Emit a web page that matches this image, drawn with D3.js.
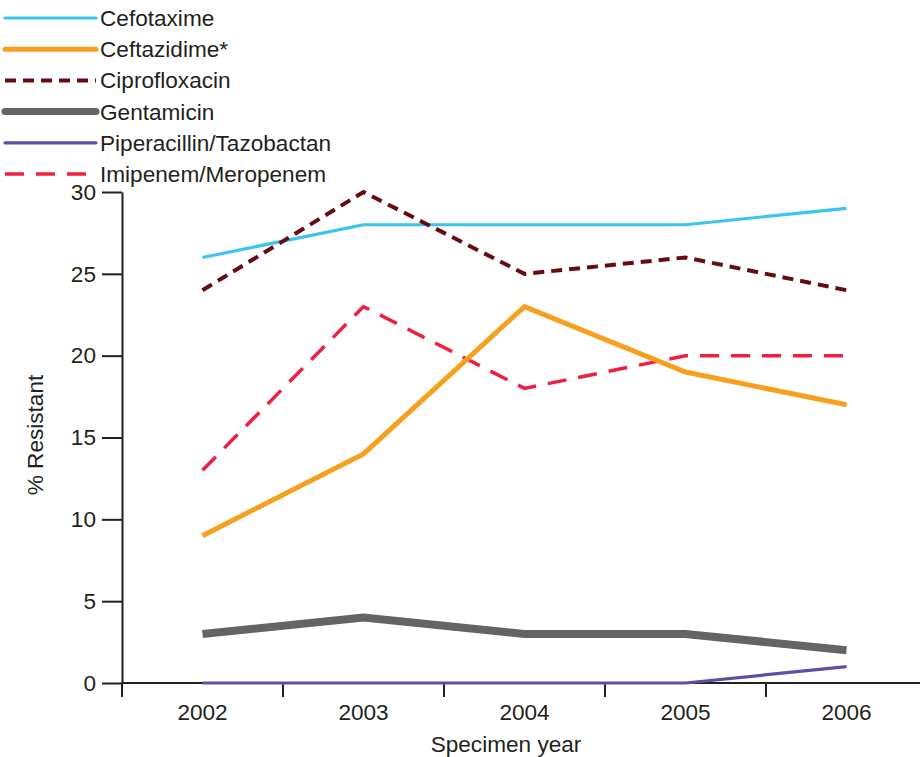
<!DOCTYPE html>
<html><head><meta charset="utf-8">
<script src="https://cdn.jsdelivr.net/npm/d3@7"></script>
<style>body{margin:0;background:#fff}svg{display:block;font-family:"Liberation Sans",Arial,sans-serif}</style>
</head><body>
<svg id="c" width="920" height="757"></svg>
<script>
const years = ["2002","2003","2004","2005","2006"];
const cefotaxime = [26,28,28,28,29];
const ceftazidime = [9,14,23,19,17];
const ciprofloxacin = [24,30,25,26,24];
const gentamicin = [3,4,3,3,2];
const piperacillin = [0,0,0,0,1];
const imipenem = [13,23,18,20,20];
const yTicks = [0,5,10,15,20,25,30];

const series = [
  {name:"Cefotaxime", values:cefotaxime, color:"#3dc3ef", width:3.2, dash:null},
  {name:"Ceftazidime*", values:ceftazidime, color:"#f7a020", width:5, dash:null},
  {name:"Ciprofloxacin", values:ciprofloxacin, color:"#650c10", width:4, dash:"11,7"},
  {name:"Gentamicin", values:gentamicin, color:"#646464", width:8, dash:null},
  {name:"Piperacillin/Tazobactan", values:piperacillin, color:"#5b4fa6", width:3.2, dash:null},
  {name:"Imipenem/Meropenem", values:imipenem, color:"#ee1f40", width:3.5, dash:"19,12"}
];
const drawOrder = ["Gentamicin","Piperacillin/Tazobactan","Imipenem/Meropenem","Ceftazidime*","Cefotaxime","Ciprofloxacin"];

const svg = d3.select("#c");
const x = d3.scaleBand().domain(years).range([122, 927]);
const y = d3.scaleLinear().domain([0,30]).range([683, 192]);
const textColor = "#231f20";
const fs = 22.6;

const yAxis = svg.append("g").attr("transform","translate(122,0)")
  .call(d3.axisLeft(y).tickValues(yTicks).tickSize(20).tickPadding(6).tickSizeOuter(0));
yAxis.select(".domain").attr("stroke",textColor).attr("stroke-width",2);
yAxis.selectAll(".tick line").attr("stroke",textColor).attr("stroke-width",2);
yAxis.selectAll("text").attr("font-size",fs).attr("fill",textColor).attr("font-family","Liberation Sans, Arial, sans-serif");

const xAxis = svg.append("g").attr("transform","translate(0,683)")
  .call(d3.axisBottom(x).tickSize(0).tickPadding(21).tickSizeOuter(0));
xAxis.select(".domain").remove();
xAxis.selectAll("text").attr("font-size",fs).attr("fill",textColor).attr("font-family","Liberation Sans, Arial, sans-serif");
svg.append("line").attr("x1",122).attr("x2",920).attr("y1",683).attr("y2",683)
  .attr("stroke",textColor).attr("stroke-width",2);
const bounds = years.map(d=>x(d)).concat([x(years[years.length-1])+x.bandwidth()]);
svg.append("g").selectAll("line").data(bounds).join("line")
  .attr("x1",d=>d).attr("x2",d=>d).attr("y1",683).attr("y2",697)
  .attr("stroke",textColor).attr("stroke-width",2);

svg.append("text").attr("x",506).attr("y",752).attr("text-anchor","middle")
  .attr("font-size",fs).attr("fill",textColor).text("Specimen year");
svg.append("text").attr("transform","translate(43,435) rotate(-90)").attr("text-anchor","middle")
  .attr("font-size",fs).attr("fill",textColor).text("% Resistant");

const line = d3.line().x((d,i)=>x(years[i])+x.bandwidth()/2).y(d=>y(d));
drawOrder.forEach(n=>{
  const s = series.find(e=>e.name===n);
  svg.append("path").datum(s.values).attr("d",line)
    .attr("fill","none").attr("stroke",s.color).attr("stroke-width",s.width)
    .attr("stroke-dasharray",s.dash).attr("stroke-linejoin","miter");
});

const leg = svg.append("g");
series.forEach((s,i)=>{
  const yy = 18 + i*31.2;
  leg.append("line").attr("x1",5).attr("x2",96).attr("y1",yy).attr("y2",yy)
    .attr("stroke",s.color).attr("stroke-width",s.width===8?7:s.width)
    .attr("stroke-dasharray",s.dash).attr("stroke-linecap", s.dash?"butt":"round");
  leg.append("text").attr("x",100).attr("y",yy+8).attr("font-size",fs).attr("fill",textColor).text(s.name);
});
</script>
</body></html>
